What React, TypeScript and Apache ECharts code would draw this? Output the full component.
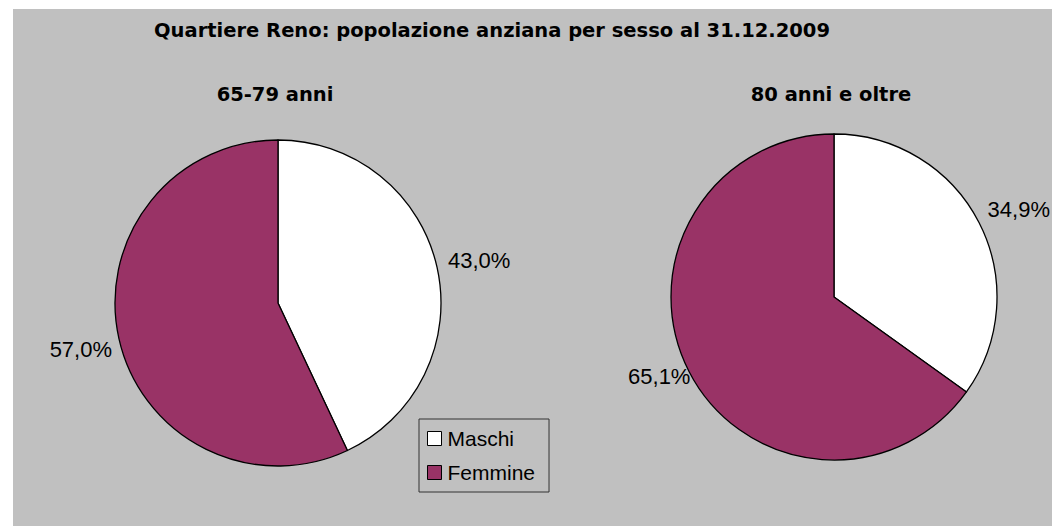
import React, { useEffect, useRef } from "react";
import * as echarts from "echarts";

const mainTitle = "Quartiere Reno: popolazione anziana per sesso al 31.12.2009";
const categories = ["Maschi", "Femmine"];
const groupTitles = ["65-79 anni", "80 anni e oltre"];
const values6579 = [43.0, 57.0];
const values80 = [34.9, 65.1];
const colors = ["#FFFFFF", "#993366"];

const fmt = (v: number) => v.toFixed(1).replace(".", ",") + "%";

// small nudges to mimic the original label placement (relative offsets)
const labelNudges = [
  [[0, -6], [4, 10]],
  [[-2, -11], [12, 3]],
];

export default function App() {
  const ref = useRef<HTMLDivElement>(null);
  useEffect(() => {
    document.body.style.margin = "0";
    const chart = echarts.init(ref.current!, null, { renderer: "svg" });
    const font = "'Liberation Sans', Arial, sans-serif";
    const titleFont = "'DejaVu Sans', sans-serif";
    const mkSeries = (idx: number, name: string, vals: number[], center: number[]) => ({
      type: "pie",
      name,
      center,
      radius: 163,
      startAngle: 90,
      clockwise: true,
      silent: true,
      data: categories.map((c, i) => ({
        name: c,
        value: vals[i],
        itemStyle: { color: colors[i] },
      })),
      itemStyle: { borderColor: "#000", borderWidth: 1.3 },
      label: {
        show: true,
        position: "outside",
        formatter: (p: any) => fmt(p.value),
        color: "#000",
        fontFamily: font,
        fontSize: 22,
        overflow: "none",
        distanceToLabelLine: 4,
      },
      labelLine: { show: false, length: 4, length2: 3 },
      labelLayout: (p: any) => {
        const n = labelNudges[idx][p.dataIndex];
        return { dx: n[0], dy: n[1] };
      },
      emphasis: { disabled: true },
    });
    const tStyle = { fontFamily: titleFont, fontSize: 19.5, fontWeight: "bold", color: "#000" };
    chart.setOption({
      animation: false,
      backgroundColor: "#FFFFFF",
      graphic: [
        {
          type: "rect",
          z: -10,
          shape: { x: 13, y: 9, width: 1039, height: 517 },
          style: { fill: "#C0C0C0" },
        },
      ],
      title: [
        { text: mainTitle, left: 487, top: 15, textAlign: "center", textStyle: tStyle },
        { text: groupTitles[0], left: 270, top: 79, textAlign: "center", textStyle: tStyle },
        { text: groupTitles[1], left: 826, top: 79, textAlign: "center", textStyle: tStyle },
      ],
      legend: {
        orient: "vertical",
        left: 419,
        top: 419,
        data: categories,
        icon: "rect",
        itemWidth: 14,
        itemHeight: 14,
        itemGap: 13,
        padding: [9, 14, 9, 8],
        borderColor: "#333",
        borderWidth: 1,
        backgroundColor: "#C0C0C0",
        selectedMode: false,
        itemStyle: { borderColor: "#000", borderWidth: 1 },
        textStyle: { fontFamily: font, fontSize: 21, color: "#000", padding: [0, 0, 0, 1] },
      },
      series: [
        mkSeries(0, groupTitles[0], values6579, [278, 303]),
        mkSeries(1, groupTitles[1], values80, [834, 297]),
      ],
    });
    return () => chart.dispose();
  }, []);
  return <div ref={ref} style={{ width: 1052, height: 526 }} />;
}
